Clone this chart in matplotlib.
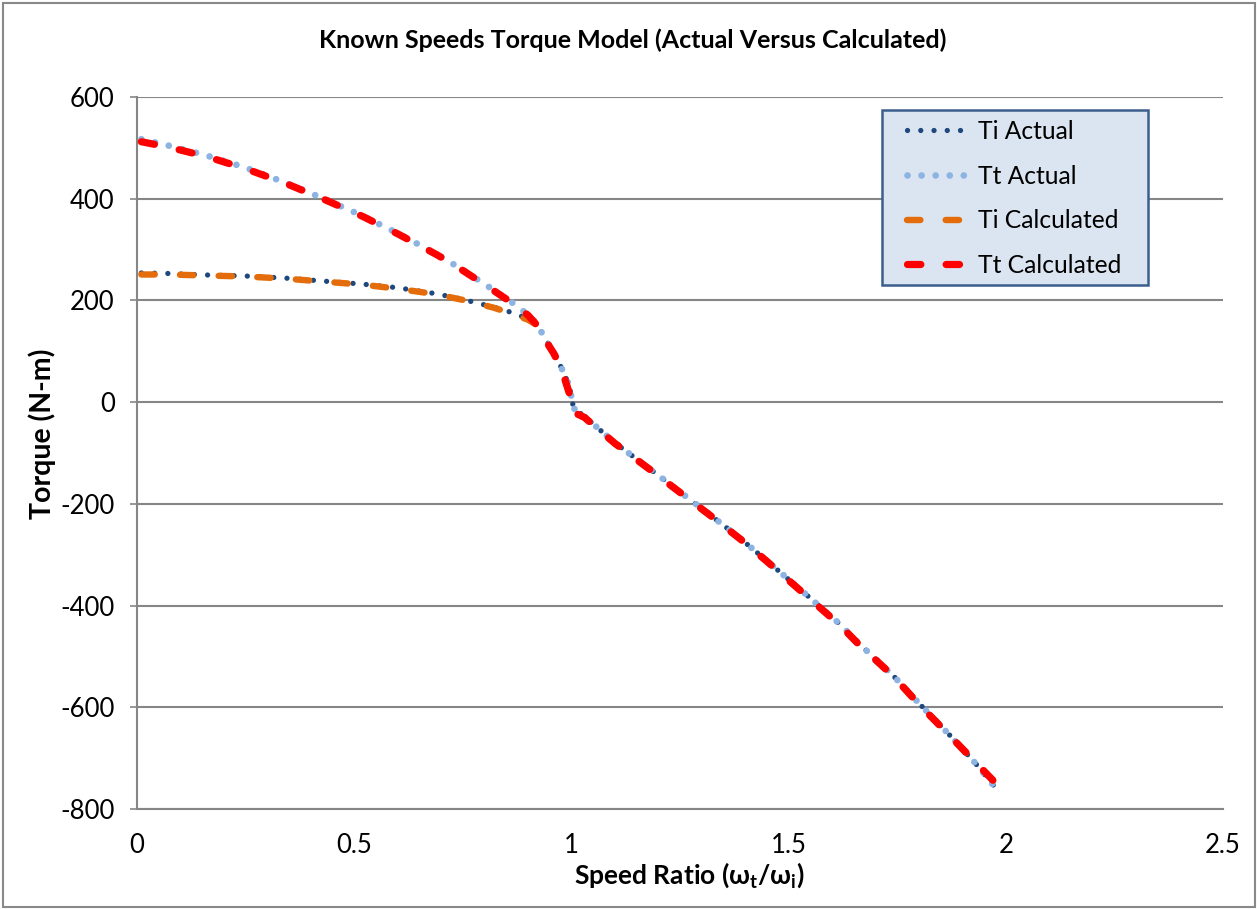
import matplotlib
matplotlib.use('Agg')
import matplotlib.pyplot as plt
from matplotlib.patches import Rectangle

# ---- data ----
speed_ratio = [0.01, 0.07, 0.16, 0.25, 0.34, 0.43, 0.52, 0.60, 0.69, 0.75, 0.82, 0.86,
               0.90, 0.92, 0.94, 0.96, 0.98, 0.995, 1.0, 1.005, 1.03, 1.10, 1.18, 1.24,
               1.32, 1.39, 1.45, 1.54, 1.62, 1.66, 1.74, 1.80, 1.87, 1.93, 1.98]
ti_actual = [254, 253, 250, 248, 244, 238, 232, 225, 213, 202, 187, 177,
             164, 155, 124, 98, 62, 33, 10, -12, -28, -80, -131, -170,
             -222, -269, -312, -378, -438, -473, -537, -592, -654, -710, -762]
tt_actual = [517, 505, 485, 461, 432, 400, 366, 332, 291, 260, 221, 198,
             172, 155, 124, 98, 62, 33, 10, -12, -28, -80, -131, -170,
             -222, -269, -312, -378, -438, -473, -537, -592, -654, -710, -762]
ti_calc = [251, 251, 249, 247, 243, 237, 231, 223, 212, 201, 186, 175,
           162, 152, 122, 95, 58, 18, -12, -20, -30, -81, -132, -171,
           -223, -270, -313, -380, -440, -475, -538, -594, -655, -708, -752]
tt_calc = [512, 502, 483, 459, 431, 399, 365, 331, 290, 259, 220, 197,
           171, 152, 122, 95, 58, 18, -12, -20, -30, -81, -132, -171,
           -223, -270, -313, -380, -440, -475, -538, -594, -655, -708, -752]

x_ticks = [0, 0.5, 1, 1.5, 2, 2.5]
x_tick_labels = ['0', '0.5', '1', '1.5', '2', '2.5']
y_ticks = [-800, -600, -400, -200, 0, 200, 400, 600]

plt.rcParams['font.family'] = ['Lato', 'DejaVu Sans']
plt.rcParams['mathtext.fontset'] = 'custom'
plt.rcParams['mathtext.rm'] = 'Lato'
plt.rcParams['mathtext.bf'] = 'Lato:bold'
plt.rcParams['axes.unicode_minus'] = False

W, H = 1257, 909
fig = plt.figure(figsize = (W/100, H/100), dpi = 100)
fig.patches.append(Rectangle((3/W, 2/H), 1252/W, 904/H, transform = fig.transFigure,
    fill = False, edgecolor = '#898989', linewidth = 1.5))

ax = fig.add_axes([137/W, 100/H, 1086/W, 712/H])

gray = '#868686'
ax.plot(speed_ratio, ti_actual, color = '#1F497D', lw = 3.8, linestyle = (0, (0.01, 2.5)),
    dash_capstyle = 'round', label = 'Ti Actual', zorder = 3)
ax.plot(speed_ratio, tt_actual, color = '#8DB3E2', lw = 4.8, linestyle = (0, (0.01, 2.1)),
    dash_capstyle = 'round', label = 'Tt Actual', zorder = 4)
ax.plot(speed_ratio, ti_calc, color = '#E46C0A', lw = 4.6, linestyle = (0, (2.1, 3.95)),
    dash_capstyle = 'round', label = 'Ti Calculated', zorder = 5)
ax.plot(speed_ratio, tt_calc, color = '#FF0000', lw = 5.2, linestyle = (0, (1.85, 3.5)),
    dash_capstyle = 'round', label = 'Tt Calculated', zorder = 6)

ax.set_xlim(0, 2.5)
ax.set_ylim(-800, 600)
ax.set_xticks(x_ticks)
ax.set_xticklabels(x_tick_labels)
ax.set_yticks(y_ticks)
ax.yaxis.grid(True, color = gray, linewidth = 1.5, zorder = 0)
ax.set_axisbelow(True)
for s in ('top', 'right'):
    ax.spines[s].set_visible(False)
for s in ('left', 'bottom'):
    ax.spines[s].set_color(gray)
    ax.spines[s].set_linewidth(1.5)
ax.tick_params(axis = 'y', length = 5, width = 1.2, color = gray, pad = 11, labelsize = 18.5)
ax.tick_params(axis = 'x', length = 0, pad = 17, labelsize = 18.5)

fig.text(0.503, 1 - 40/H, 'Known Speeds Torque Model (Actual Versus Calculated)',
    ha = 'center', va = 'center', fontsize = 18, fontweight = 'bold')
fig.text(689/W, 1 - 875/H, r'Speed Ratio (ω$_\mathbf{t}$/ω$_\mathbf{i}$)',
    ha = 'center', va = 'center', fontsize = 19, fontweight = 'bold')
fig.text(42/W, 1 - 434/H, 'Torque (N-m)', rotation = 90,
    ha = 'center', va = 'center', fontsize = 20.5, fontweight = 'bold')

# legend frame drawn separately so the padding matches
ax.add_patch(Rectangle(((882 - 137)/1086, (809 - 285)/712), 266/1086, 175/712,
    transform = ax.transAxes, facecolor = '#DBE5F1', edgecolor = '#3B5E8C',
    linewidth = 1.8, zorder = 7))
leg = ax.legend(loc = 'upper left', bbox_to_anchor = ((907 - 137)/1086, (809 - 120)/712),
    frameon = False, fontsize = 17.7, handlelength = 2.6, handletextpad = 0.3,
    labelspacing = 0.88, borderpad = 0, borderaxespad = 0)
leg.set_zorder(8)

plt.savefig('out.png', dpi = 100)
